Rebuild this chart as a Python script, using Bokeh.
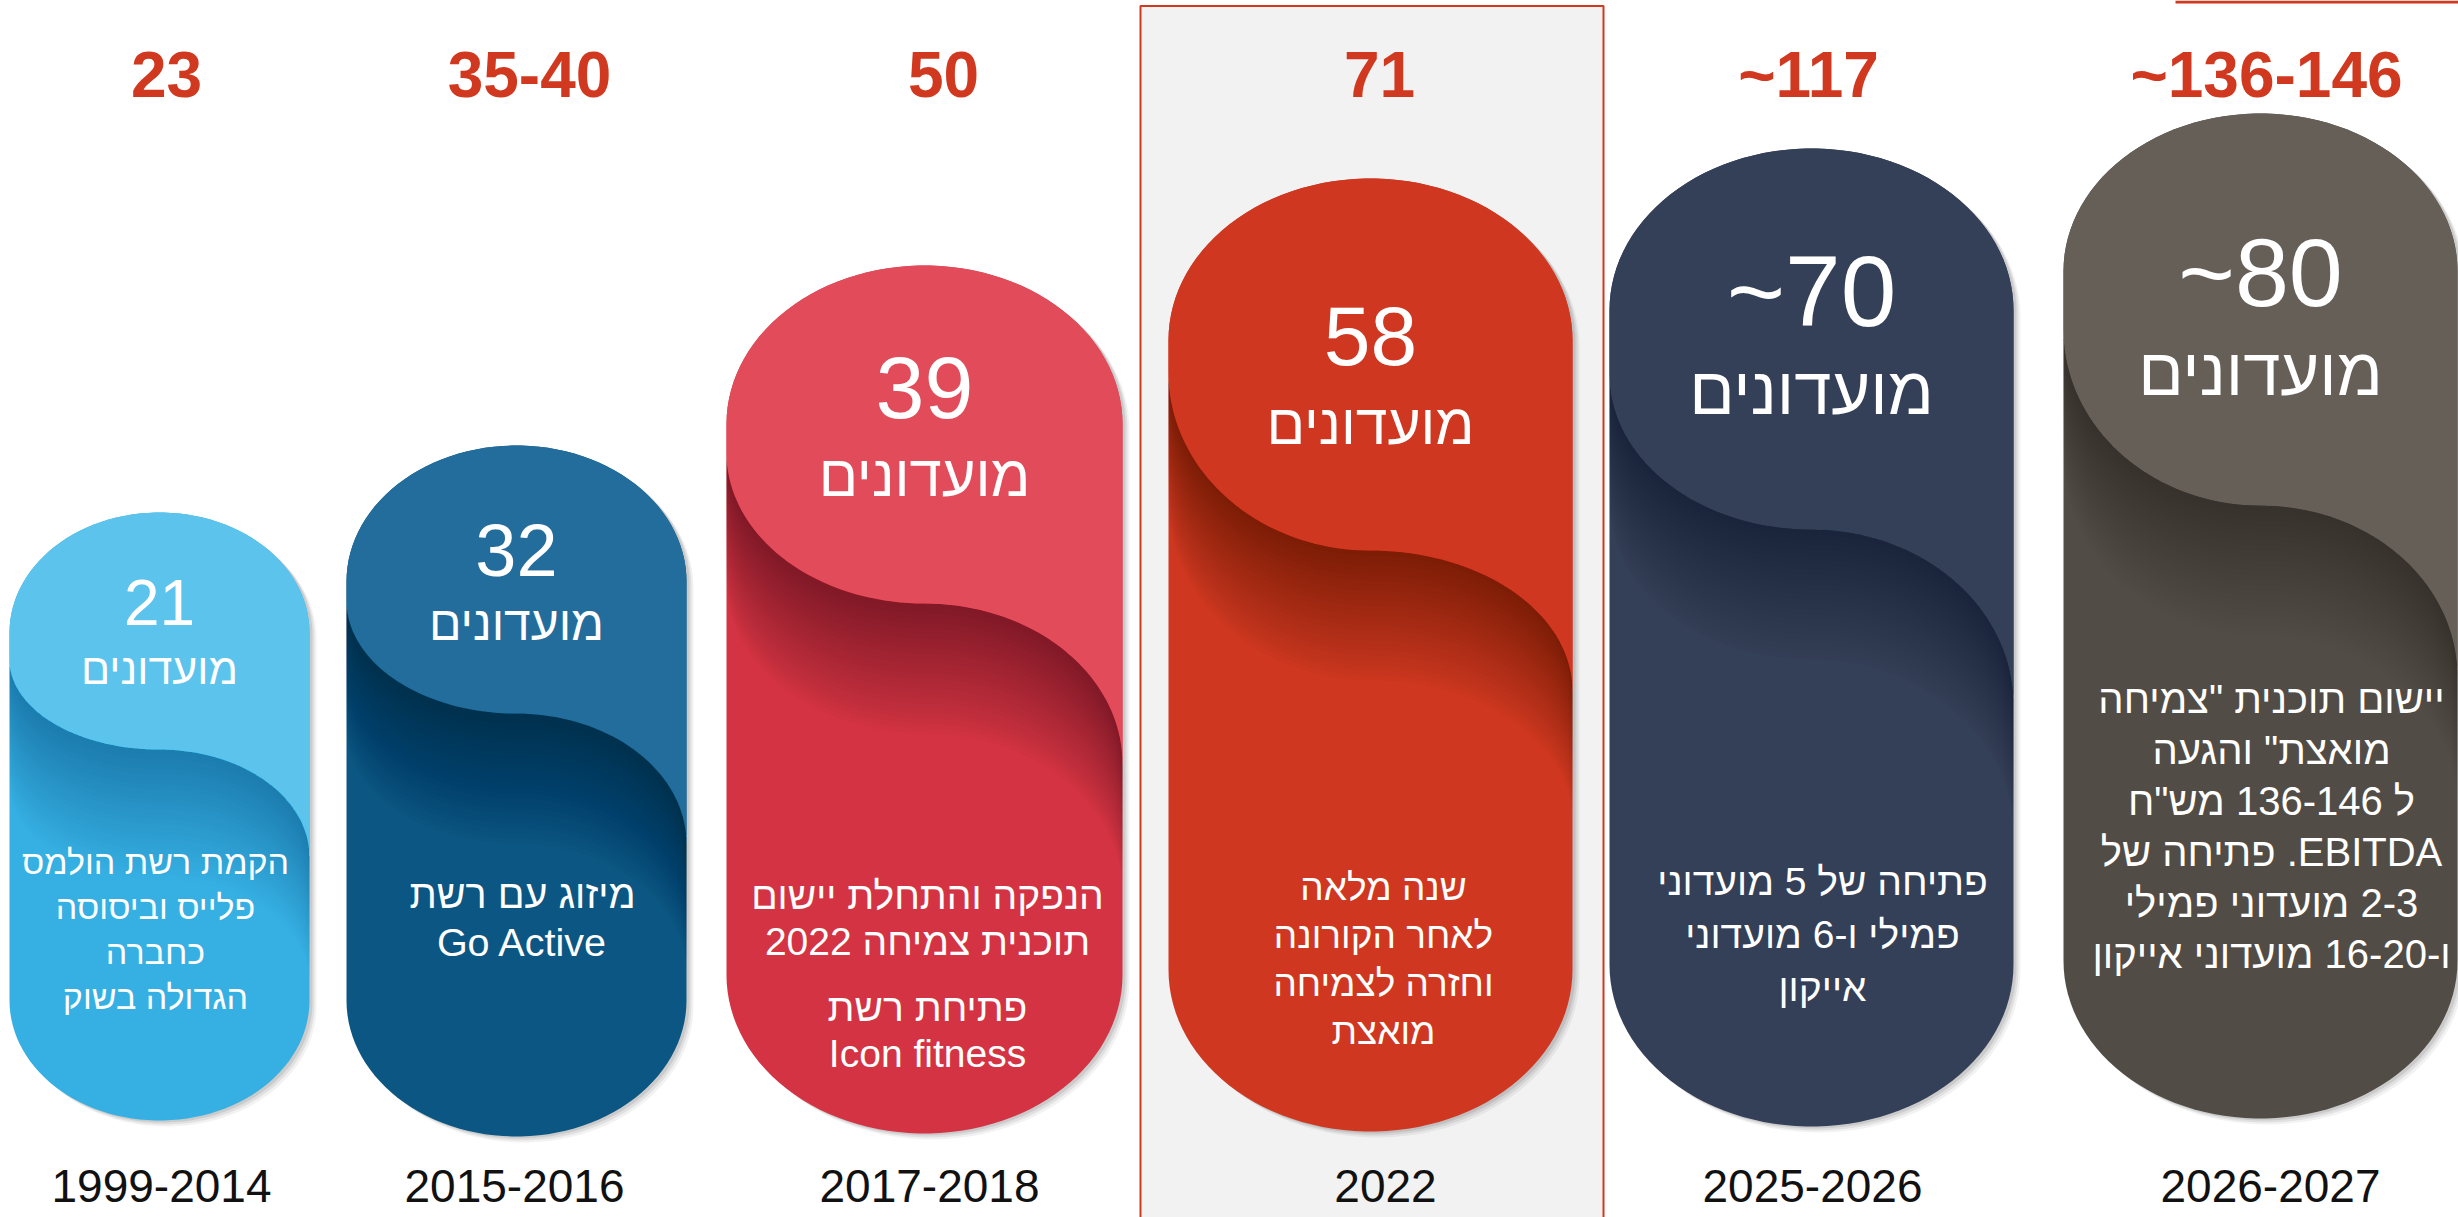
import numpy as np
from bokeh.plotting import figure
from bokeh.models import Range1d
from bokeh.core.properties import value
from bokeh.embed import file_html
from bokeh.resources import INLINE

# ---------------- data ----------------
periods = ["1999-2014", "2015-2016", "2017-2018", "2022", "2025-2026", "2026-2027"]
club_counts = ["21", "32", "39", "58", "~70", "~80"]
club_word = "מועדונים"
revenue_labels = ["23", "35-40", "50", "71", "~117", "~136-146"]
milestones = [
    [["הקמת רשת הולמס", "פלייס וביסוסה", "כחברה", "הגדולה בשוק"]],
    [["מיזוג עם רשת", "Go Active"]],
    [["הנפקה והתחלת יישום", "תוכנית צמיחה 2022"], ["פתיחת רשת", "Icon fitness"]],
    [["שנה מלאה", "לאחר הקורונה", "וחזרה לצמיחה", "מואצת"]],
    [["פתיחה של 5 מועדוני", "פמילי ו-6 מועדוני", "אייקון"]],
    [['יישום תוכנית "צמיחה', 'מואצת" והגעה', 'ל 136-146 מש"ח',
      "EBITDA. פתיחה של", "2-3 מועדוני פמילי", "ו-16-20 מועדוני אייקון"]],
]
highlighted = "2022"

# ---------------- layout / style (page pixels, y measured from top) ----------------
PAGE_W, PAGE_H = 2458, 1217
cx = [159, 516, 924, 1370, 1811, 2260]
hw = [150, 170, 198, 202, 202, 197]
top = [512, 445, 265, 178, 148, 113]
bot = [1120, 1136, 1133, 1131, 1126, 1118]
y_left = [659, 600, 452, 372, 374, 329]
y_mid = [749, 713, 603, 550, 529, 505]
y_right = [856, 843, 763, 690, 704, 676]
arc_k = 0.8

upper_col = ["#5BC3EC", "#226D9C", "#E24C5A", "#CF3720", "#343F58", "#665F58"]
lower_col = ["#36B0E3", "#0C5683", "#D43343", "#CF3720", "#343F58", "#524C46"]
shadow_strength = [0.45, 0.9, 1.0, 1.0, 0.7, 0.7]

num_y = [602, 550, 387, 335, 290, 272]
num_size = [64, 74, 88, 84, 100, 97]
word_y = [668, 623, 475, 423, 390, 371]
word_size = [43, 48, 58, 57, 67, 67]
desc_dx = [-4, 6, 3, 13, 11, 11]
desc_y0 = [861, 893, 895, 887, 881, 698]
desc_dy = [45, 48, 46, 48, 53, 51]
desc_size = [34, 39.5, 39, 37, 39, 40]
para_gap = 20

rev_x = [166, 529, 943, 1379, 1808, 2266]
rev_y = 74
year_x = [161, 514, 929, 1385, 1812, 2270]
year_y = 1185

RED = "#D0391F"
FONT = "Liberation Sans"
RLE, PDF = "\u202B", "\u202C"


def Y(v):
    return PAGE_H - np.asarray(v, dtype=float)


def rtl(s):
    return RLE + s + PDF


p = figure(width=PAGE_W, height=PAGE_H, x_range=Range1d(0, PAGE_W), y_range=Range1d(0, PAGE_H),
           output_backend="svg", toolbar_location=None, min_border=0)
p.axis.visible = False
p.grid.visible = False
p.outline_line_color = None
p.background_fill_color = "white"
p.border_fill_color = "white"

# highlight box for the current year
hi = periods.index(highlighted)
p.quad(left=[1140], right=[1603], top=Y([5.5]), bottom=Y([1230]),
       fill_color="#F2F2F2", line_color=RED, line_width=2)
p.line(x=[2175, 2460], y=Y([1.5, 1.5]), line_color=RED, line_width=3)


def pill_outline(c, w, t, b, k):
    ry = k * w
    th = np.linspace(np.pi, 2 * np.pi, 60)
    xs = list(c + w * np.cos(th)); ys = list(t + ry + ry * np.sin(th))
    th2 = np.linspace(0, np.pi, 60)
    xs += list(c + w * np.cos(th2)); ys += list(b - ry + ry * np.sin(th2))
    return np.array(xs), np.array(ys)


def s_curve(c, w, yl, ym, yr):
    s = np.linspace(np.pi / 2, 0, 40)
    xs = list(c + w * np.sin(s)); ys = list(yr - (yr - ym) * np.cos(s))
    s2 = np.linspace(0, np.pi / 2, 40)[1:]
    xs += list(c - w * np.sin(s2)); ys += list(yl + (ym - yl) * np.cos(s2))
    return np.array(xs), np.array(ys)


def upper_shape(c, w, t, k, yl, ym, yr):
    ry = k * w
    th = np.linspace(np.pi, 2 * np.pi, 60)
    xs = list(c + w * np.cos(th)); ys = list(t + ry + ry * np.sin(th))
    sx, sy = s_curve(c, w, yl, ym, yr)
    xs += list(sx); ys += list(sy)
    return np.array(xs), np.array(ys)


for i in range(len(periods)):
    ox, oy = pill_outline(cx[i], hw[i], top[i], bot[i], arc_k)
    # soft drop shadow
    for dx, dy, a in [(7, 6, 0.05), (5, 4, 0.07), (3, 2, 0.09)]:
        p.patch(ox + dx, Y(oy + dy), fill_color="black", fill_alpha=a, line_color=None)
    p.patch(ox, Y(oy), fill_color=lower_col[i], line_color=None)
    # inner shadow below the S-curve
    sx, sy = s_curve(cx[i], hw[i], y_left[i], y_mid[i], y_right[i])
    for d in np.arange(5, 131, 5):
        bx = np.concatenate([sx, sx[::-1]])
        by = np.concatenate([sy, (sy + d)[::-1]])
        p.patch(bx, Y(by), fill_color="black", fill_alpha=0.016 * shadow_strength[i], line_color=None)
    ux, uy = upper_shape(cx[i], hw[i], top[i], arc_k, y_left[i], y_mid[i], y_right[i])
    p.patch(ux, Y(uy), fill_color=upper_col[i], line_color=None)

# club counts and word
p.text(x=cx, y=Y(num_y), text=club_counts, text_font=value(FONT), text_font_size=[f"{s}px" for s in num_size],
       text_color="white", text_align="center", text_baseline="middle")
p.text(x=cx, y=Y(word_y), text=[rtl(club_word)] * len(cx), text_font=value(FONT),
       text_font_size=[f"{s}px" for s in word_size],
       text_color="white", text_align="center", text_baseline="middle")

# milestone descriptions
dxs, dys, dts, dsz = [], [], [], []
for i, paras in enumerate(milestones):
    y = desc_y0[i]
    for j, para in enumerate(paras):
        if j > 0:
            y += para_gap
        for line in para:
            dxs.append(cx[i] + desc_dx[i]); dys.append(y); dts.append(rtl(line)); dsz.append(f"{desc_size[i]}px")
            y += desc_dy[i]
p.text(x=dxs, y=Y(dys), text=dts, text_font=value(FONT), text_font_size=dsz,
       text_color="white", text_align="center", text_baseline="middle")

# revenue labels (top) and periods (bottom)
p.text(x=rev_x, y=Y([rev_y] * len(rev_x)), text=revenue_labels, text_font=value(FONT),
       text_font_size=value("64px"), text_font_style="bold", text_color=RED,
       text_align="center", text_baseline="middle")
p.text(x=year_x, y=Y([year_y] * len(year_x)), text=periods, text_font=value(FONT),
       text_font_size=value("46px"), text_color="#111111",
       text_align="center", text_baseline="middle")

open("out.html", "w").write(file_html(p, INLINE))
